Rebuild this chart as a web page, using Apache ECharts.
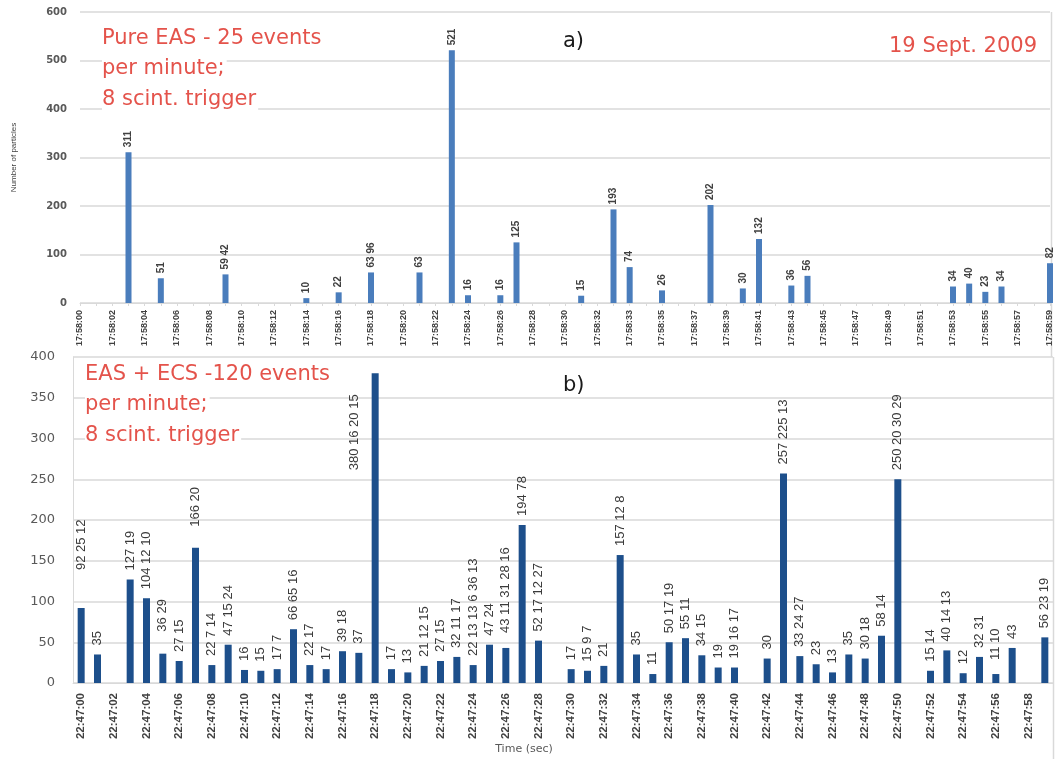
<!DOCTYPE html>
<html>
<head>
<meta charset="utf-8">
<script src="https://cdn.jsdelivr.net/npm/echarts@6/dist/echarts.min.js"></script>
<style>
  html, body { margin: 0; padding: 0; background: #ffffff; }
  #chart { width: 1058px; height: 759px; }
</style>
</head>
<body>
<div id="chart"></div>
<script>
// a) Pure EAS run, 19 Sept. 2009 — one slot per second (17:58:32 is logged twice)
const catsA = [
  '17:58:00','17:58:01','17:58:02','17:58:03','17:58:04','17:58:05','17:58:06','17:58:07','17:58:08','17:58:09',
  '17:58:10','17:58:11','17:58:12','17:58:13','17:58:14','17:58:15','17:58:16','17:58:17','17:58:18','17:58:19',
  '17:58:20','17:58:21','17:58:22','17:58:23','17:58:24','17:58:25','17:58:26','17:58:27','17:58:28','17:58:29',
  '17:58:30','17:58:31','17:58:32','17:58:32','17:58:33','17:58:34','17:58:35','17:58:36','17:58:37','17:58:38',
  '17:58:39','17:58:40','17:58:41','17:58:42','17:58:43','17:58:44','17:58:45','17:58:46','17:58:47','17:58:48',
  '17:58:49','17:58:50','17:58:51','17:58:52','17:58:53','17:58:54','17:58:55','17:58:56','17:58:57','17:58:58',
  '17:58:59'
];
// number of particles of each event registered in that second (first one is drawn as the bar)
const eventsA = [
  [], [], [], [311], [], [51], [], [], [], [59, 42],
  [], [], [], [], [10], [], [22], [], [63, 96], [],
  [], [63], [], [521], [16], [], [16], [125], [], [],
  [], [15], [], [193], [74], [], [26], [], [], [202],
  [], [30], [132], [], [36], [56], [], [], [], [],
  [], [], [], [], [34], [40], [23], [34], [], [],
  [82]
];

// b) EAS + ECS run
const catsB = [
  '22:47:00','22:47:01','22:47:02','22:47:03','22:47:04','22:47:05','22:47:06','22:47:07','22:47:08','22:47:09',
  '22:47:10','22:47:11','22:47:12','22:47:13','22:47:14','22:47:15','22:47:16','22:47:17','22:47:18','22:47:19',
  '22:47:20','22:47:21','22:47:22','22:47:23','22:47:24','22:47:25','22:47:26','22:47:27','22:47:28','22:47:29',
  '22:47:30','22:47:31','22:47:32','22:47:33','22:47:34','22:47:35','22:47:36','22:47:37','22:47:38','22:47:39',
  '22:47:40','22:47:41','22:47:42','22:47:43','22:47:44','22:47:45','22:47:46','22:47:47','22:47:48','22:47:49',
  '22:47:50','22:47:51','22:47:52','22:47:53','22:47:54','22:47:55','22:47:56','22:47:57','22:47:58','22:47:59'
];
const eventsB = [
  [92, 25, 12], [35], [], [127, 19], [104, 12, 10], [36, 29], [27, 15], [166, 20], [22, 7, 14], [47, 15, 24],
  [16], [15], [17, 7], [66, 65, 16], [22, 17], [17], [39, 18], [37], [380, 16, 20, 15], [17],
  [13], [21, 12, 15], [27, 15], [32, 11, 17], [22, 13, 13, 6, 36, 13], [47, 24], [43, 11, 31, 28, 16], [194, 78], [52, 17, 12, 27], [],
  [17], [15, 9, 7], [21], [157, 12, 8], [35], [11], [50, 17, 19], [55, 11], [34, 15], [19],
  [19, 16, 17], [], [30], [257, 225, 13], [33, 24, 27], [23], [13], [35], [30, 18], [58, 14],
  [250, 20, 30, 29], [], [15, 14], [40, 14, 13], [12], [32, 31], [11, 10], [43], [], [56, 23, 19]
];

const yTicksA = { min: 0, max: 600, step: 100 };
const yTicksB = { min: 0, max: 400, step: 50 };

// label placement tweaks for the lower panel (gap above the bar, or a fixed spot beside it)
const labelGapB = { 0: 38, 5: 22, 7: 21, 26: 15, 56: 14 };
const labelBesideB = { 18: [-17.5, 97] };

const LABEL_FONT = '"Liberation Sans", Arial, sans-serif';
const RED = '#e4534b';
const GRID = '#d9d9d9';

const barDataA = eventsA.map(e => (e.length ? e[0] : '-'));
const barDataB = eventsB.map((e, i) => {
  if (!e.length) return '-';
  const item = { value: e[0] };
  if (labelGapB[i] != null) item.label = { distance: labelGapB[i] };
  if (labelBesideB[i]) item.label = { position: labelBesideB[i] };
  return item;
});

const chart = echarts.init(document.getElementById('chart'), null, { renderer: 'canvas' });

function redLine(text, x, y, pad) {
  return {
    type: 'text', x: x, y: y, z: 10,
    style: {
      text: text, font: '21px "DejaVu Sans"', fill: RED, align: 'left', verticalAlign: 'middle',
      backgroundColor: '#ffffff', padding: pad
    }
  };
}

chart.setOption({
  backgroundColor: '#ffffff',
  animation: false,
  grid: [
    { left: 80, width: 970, top: 12, height: 291, containLabel: false },
    { left: 73, width: 980, top: 357, height: 326, containLabel: false }
  ],
  xAxis: [
    {
      type: 'category', gridIndex: 0, data: catsA, boundaryGap: false,
      axisLine: { lineStyle: { color: GRID } },
      axisTick: { show: true, interval: 0, length: 3, lineStyle: { color: GRID } },
      axisLabel: {
        interval: 1, rotate: 90, margin: 7,
        fontFamily: LABEL_FONT, fontSize: 9, fontWeight: 'bold', color: '#404040'
      },
      splitLine: { show: false }
    },
    {
      type: 'category', gridIndex: 1, data: catsB, boundaryGap: true,
      axisLine: { lineStyle: { color: GRID } },
      axisTick: { show: false },
      axisLabel: {
        interval: 1, rotate: 90, margin: 10,
        fontFamily: LABEL_FONT, fontSize: 11.5, fontWeight: 'bold', color: '#404040'
      },
      splitLine: { show: false }
    }
  ],
  yAxis: [
    {
      type: 'value', gridIndex: 0, min: yTicksA.min, max: yTicksA.max, interval: yTicksA.step,
      name: 'Number of particles', nameLocation: 'middle', nameGap: 62,
      nameTextStyle: { fontFamily: LABEL_FONT, fontSize: 8, color: '#404040' },
      axisLine: { show: false }, axisTick: { show: false },
      axisLabel: { margin: 13, fontFamily: 'DejaVu Sans', fontSize: 10, fontWeight: 'bold', color: '#595959' },
      splitLine: { lineStyle: { color: GRID, width: 1.5 } }
    },
    {
      type: 'value', gridIndex: 1, min: yTicksB.min, max: yTicksB.max, interval: yTicksB.step,
      axisLine: { show: true, lineStyle: { color: GRID } }, axisTick: { show: false },
      axisLabel: { margin: 18, fontFamily: 'DejaVu Sans', fontSize: 13, color: '#595959' },
      splitLine: { lineStyle: { color: GRID, width: 1.5 } }
    }
  ],
  series: [
    {
      type: 'bar', name: 'Pure EAS', xAxisIndex: 0, yAxisIndex: 0,
      data: barDataA, barWidth: 6,
      itemStyle: { color: '#4a7dbc' },
      label: {
        show: true, position: 'top', rotate: 90, align: 'left', verticalAlign: 'middle', distance: 5,
        fontFamily: LABEL_FONT, fontSize: 10, fontWeight: 'bold', color: '#404040',
        formatter: p => eventsA[p.dataIndex].join(' ')
      }
    },
    {
      type: 'bar', name: 'EAS + ECS', xAxisIndex: 1, yAxisIndex: 1,
      data: barDataB, barWidth: 7,
      itemStyle: { color: '#1d4f8b' },
      label: {
        show: true, position: 'top', rotate: 90, align: 'left', verticalAlign: 'middle', distance: 9,
        fontFamily: LABEL_FONT, fontSize: 13, color: '#3a3a3a',
        formatter: p => eventsB[p.dataIndex].join(' ')
      }
    }
  ],
  graphic: [
    // frame edges on the right side
    { type: 'line', shape: { x1: 1051.5, y1: 12, x2: 1051.5, y2: 357 }, style: { stroke: GRID, lineWidth: 1.5 }, silent: true },
    { type: 'line', shape: { x1: 1053.5, y1: 357, x2: 1053.5, y2: 759 }, style: { stroke: GRID, lineWidth: 1.5 }, silent: true },
    // panel a) notes
    redLine('Pure EAS - 25 events', 102, 38.5, [8, 2, 13, 0]),
    redLine('per minute;', 102, 69, [0, 2, 4, 0]),
    redLine('8 scint. trigger', 102, 99.5, [1, 2, 3, 0]),
    {
      type: 'text', x: 563, y: 42,
      style: { text: 'a)', font: '21px "DejaVu Sans"', fill: '#1a1a1a', align: 'left', verticalAlign: 'middle' }
    },
    {
      type: 'text', x: 889, y: 47,
      style: { text: '19 Sept. 2009', font: '21px "DejaVu Sans"', fill: RED, align: 'left', verticalAlign: 'middle' }
    },
    // panel b) notes
    redLine('EAS + ECS -120 events', 85, 375, [1, 2, 1, 0]),
    redLine('per minute;', 85, 405, [1, 2, 1, 0]),
    redLine('8 scint. trigger', 85, 436, [1, 2, 1, 0]),
    {
      type: 'text', x: 563, y: 386,
      style: { text: 'b)', font: '21px "DejaVu Sans"', fill: '#1a1a1a', align: 'left', verticalAlign: 'middle' }
    },
    {
      type: 'text', x: 524, y: 749,
      style: { text: 'Time (sec)', font: '11px "DejaVu Sans"', fill: '#595959', align: 'center', verticalAlign: 'middle' }
    }
  ]
});
</script>
</body>
</html>
